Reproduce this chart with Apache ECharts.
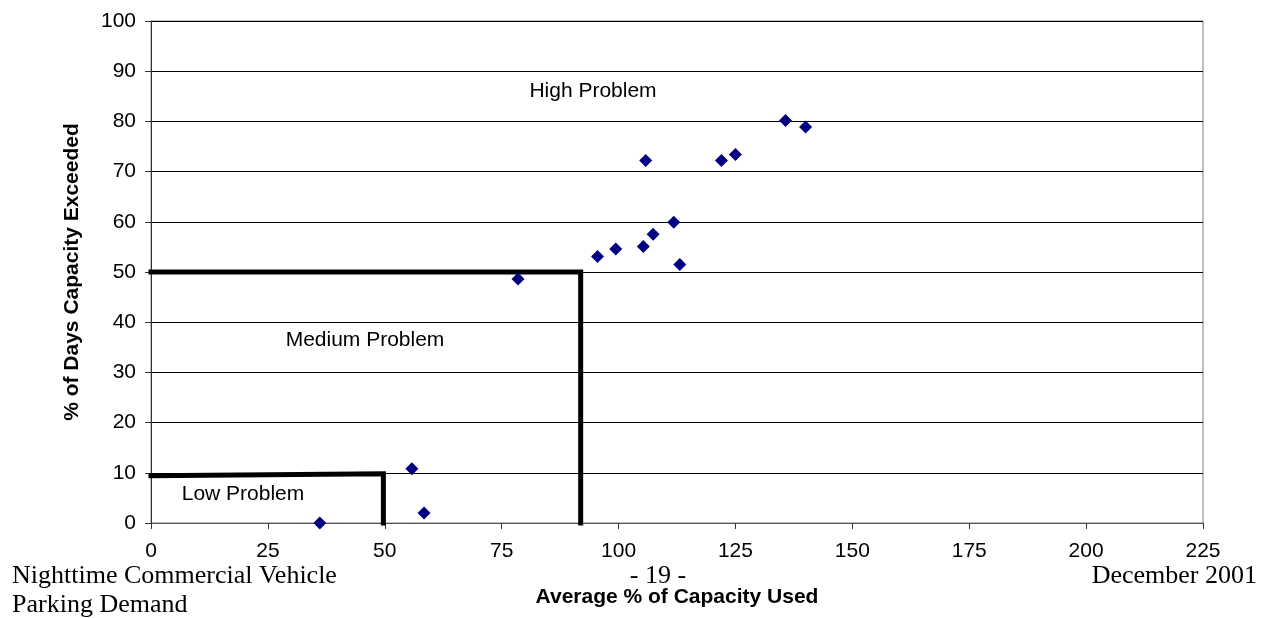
<!DOCTYPE html>
<html>
<head>
<meta charset="utf-8">
<script src="https://cdn.jsdelivr.net/npm/echarts@6/dist/echarts.min.js"></script>
<style>
html,body{margin:0;padding:0;background:#fff;}
#chart{width:1267px;height:618px;}
</style>
</head>
<body>
<div id="chart"></div>
<script>
// Data
const avgCapacityUsed = [36.1, 55.8, 58.4, 78.5, 95.5, 99.4, 105.3, 107.4, 111.8, 113.1, 105.8, 122.0, 125.0, 135.7, 140.0];
const daysExceeded    = [0.0, 10.8, 2.0, 48.6, 53.1, 54.6, 55.1, 57.5, 59.9, 51.5, 72.2, 72.2, 73.4, 80.2, 78.9];
const lowBoundary     = [[0, 9.4], [49.7, 9.8], [49.7, 0]];
const mediumBoundary  = [[0, 50], [91.9, 50], [91.9, 0]];
const xTicks = [0, 25, 50, 75, 100, 125, 150, 175, 200, 225];
const yTicks = [0, 10, 20, 30, 40, 50, 60, 70, 80, 90, 100];
const zoneLabels = ['High Problem', 'Medium Problem', 'Low Problem'];
const xTitle = 'Average % of Capacity Used';
const yTitle = '% of Days Capacity Exceeded';
const footerLeft = ['Nighttime Commercial Vehicle', 'Parking Demand'];
const footerCenter = '- 19 -';
const footerRight = 'December 2001';

const points = avgCapacityUsed.map((x, i) => [x, daysExceeded[i]]);
const sans = 'Liberation Sans, Arial, sans-serif';
const serif = 'Liberation Serif, Times New Roman, serif';

const chart = echarts.init(document.getElementById('chart'), null, {renderer: 'canvas'});
chart.setOption({
  animation: false,
  backgroundColor: '#fff',
  grid: {left: 151, right: 64, top: 21, bottom: 95, show: true, borderColor: '#808080', borderWidth: 1, backgroundColor: 'transparent'},
  xAxis: {
    type: 'value', min: xTicks[0], max: xTicks[xTicks.length - 1], interval: 25,
    name: xTitle, nameLocation: 'middle', nameGap: 64,
    nameTextStyle: {fontFamily: sans, fontWeight: 'bold', fontSize: 21, color: '#000'},
    axisLine: {show: true, lineStyle: {color: '#555', width: 1}},
    axisTick: {show: true, length: 6, lineStyle: {color: '#333'}},
    axisLabel: {fontFamily: sans, fontSize: 21, color: '#000', margin: 18},
    splitLine: {show: false}
  },
  yAxis: {
    type: 'value', min: yTicks[0], max: yTicks[yTicks.length - 1], interval: 10,
    name: yTitle, nameLocation: 'middle', nameGap: 68, nameRotate: 90,
    nameTextStyle: {fontFamily: sans, fontWeight: 'bold', fontSize: 21, color: '#000'},
    axisLine: {show: true, lineStyle: {color: '#333', width: 1}},
    axisTick: {show: true, length: 6, lineStyle: {color: '#333'}},
    axisLabel: {fontFamily: sans, fontSize: 21, color: '#000', margin: 15},
    splitLine: {show: true, lineStyle: {color: '#000', width: 1}}
  },
  series: [
    {
      type: 'line', data: lowBoundary, symbol: 'none', clip: false, z: 3,
      lineStyle: {color: '#000', width: 5, cap: 'square', join: 'miter'}
    },
    {
      type: 'line', data: mediumBoundary, symbol: 'none', clip: false, z: 3,
      lineStyle: {color: '#000', width: 5, cap: 'square', join: 'miter'}
    },
    {
      type: 'scatter', data: points, symbol: 'diamond', symbolSize: 13, z: 4,
      itemStyle: {color: '#000080', opacity: 1}
    }
  ],
  graphic: [
    {type: 'text', style: {x: 593, y: 91, text: zoneLabels[0], font: '21px ' + sans, fill: '#000', align: 'center', verticalAlign: 'middle'}},
    {type: 'text', style: {x: 365, y: 340, text: zoneLabels[1], font: '21px ' + sans, fill: '#000', align: 'center', verticalAlign: 'middle'}},
    {type: 'text', style: {x: 243, y: 494, text: zoneLabels[2], font: '21px ' + sans, fill: '#000', align: 'center', verticalAlign: 'middle'}},
    {type: 'text', style: {x: 12, y: 576, text: footerLeft[0], font: '26px ' + serif, fill: '#000', align: 'left', verticalAlign: 'middle'}},
    {type: 'text', style: {x: 12, y: 605, text: footerLeft[1], font: '26px ' + serif, fill: '#000', align: 'left', verticalAlign: 'middle'}},
    {type: 'text', style: {x: 658, y: 576, text: footerCenter, font: '26px ' + serif, fill: '#000', align: 'center', verticalAlign: 'middle'}},
    {type: 'text', style: {x: 1257, y: 576, text: footerRight, font: '26px ' + serif, fill: '#000', align: 'right', verticalAlign: 'middle'}}
  ]
});
</script>
</body>
</html>
